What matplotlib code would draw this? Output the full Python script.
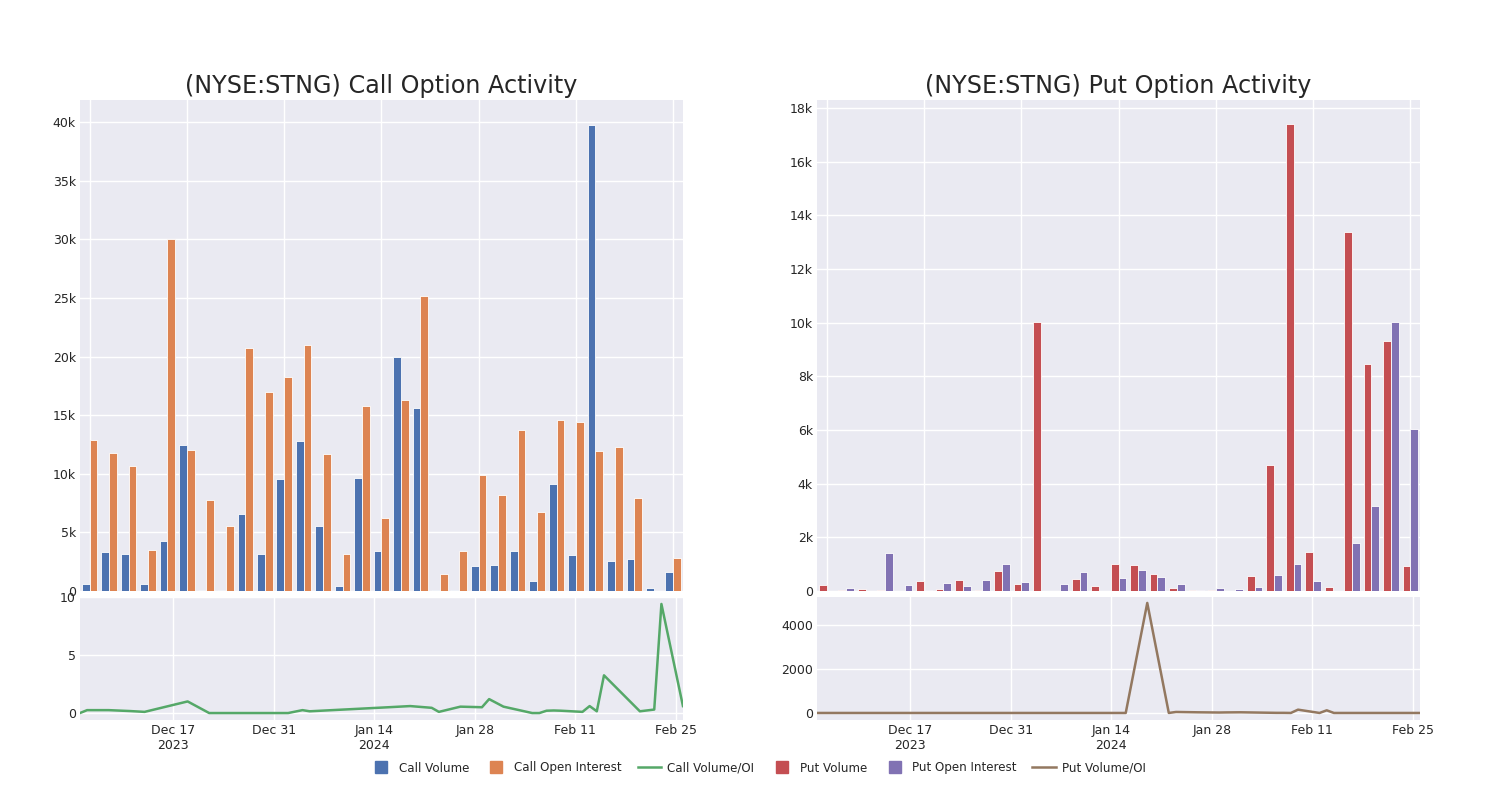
import matplotlib
matplotlib.use("Agg")
import matplotlib.pyplot as plt
from matplotlib.lines import Line2D
import numpy as np
import pandas as pd

# Trade dates shown in the chart
dates = pd.to_datetime([
    "2023-12-04", "2023-12-05", "2023-12-08", "2023-12-11", "2023-12-13",
    "2023-12-19", "2023-12-22", "2024-01-02", "2024-01-04", "2024-01-05",
    "2024-01-16", "2024-01-19", "2024-01-22", "2024-01-23", "2024-01-26",
    "2024-01-29", "2024-01-30", "2024-02-01", "2024-02-05", "2024-02-06",
    "2024-02-07", "2024-02-08", "2024-02-09", "2024-02-12", "2024-02-13",
    "2024-02-14", "2024-02-15", "2024-02-20", "2024-02-22", "2024-02-23",
    "2024-02-26",
])

call_volume = [570, 3360, 3140, 570, 4250, 12430, 100, 100, 6600, 3140,
               9580, 12830, 5530, 400, 9670, 3450, 20000, 15600, 50, 50,
               2100, 2200, 3400, 830, 9120, 3050, 39800, 2540, 2770, 290,
               1630]
call_oi = [12900, 11750, 10660, 3500, 30000, 12030, 7760, 5560, 20700, 16970,
           18250, 20960, 11720, 3140, 15800, 6200, 16300, 25150, 1430, 3420,
           9920, 8200, 13700, 6700, 14600, 14400, 11950, 12260, 7930, 30,
           2800]
call_ratio = [0.0, 0.25, 0.25, 0.17, 0.1, 1.0, 0.0, 0.0, 0.25, 0.15,
              0.5, 0.6, 0.45, 0.1, 0.55, 0.5, 1.2, 0.55, 0.0, 0.0,
              0.2, 0.22, 0.2, 0.1, 0.6, 0.15, 3.25, 0.15, 0.3, 9.4,
              0.6]

put_volume = [220, 20, 60, 30, 0, 370, 90, 410, 40, 750,
              250, 10020, 10, 460, 170, 1000, 960, 650, 110, 20,
              50, 10, 570, 4680, 17410, 1470, 150, 13370, 8460, 9320,
              940]
put_oi = [10, 100, 0, 1430, 210, 20, 310, 200, 400, 990,
          350, 0, 250, 720, 10, 470, 770, 520, 250, 20,
          120, 70, 160, 600, 990, 370, 0, 1800, 3170, 10020,
          6020]
put_ratio = [0, 0, 0, 0, 0, 0, 0, 0, 0, 0,
             0, 5000, 0, 45, 30, 20, 25, 30, 10, 5,
             5, 0, 150, 0, 120, 0, 0, 0, 0, 0,
             0]

date_ticks = pd.to_datetime(["2023-12-17", "2023-12-31", "2024-01-14",
                             "2024-01-28", "2024-02-11", "2024-02-25"])
date_labels = ["Dec 17\n2023", "Dec 31", "Jan 14\n2024", "Jan 28", "Feb 11", "Feb 25"]

BLUE, ORANGE, GREEN = "#4C72B0", "#DD8452", "#55A868"
RED, PURPLE, BROWN = "#C44E52", "#8172B3", "#937860"
BG = "#EAEAF2"
TXT = "#262626"


def style_axes(ax):
    ax.set_facecolor(BG)
    for s in ax.spines.values():
        s.set_visible(False)
    ax.grid(True, color="white", linewidth=1.0)
    ax.set_axisbelow(True)
    ax.tick_params(length=0, labelsize=9, colors=TXT, pad=3)


def k_fmt(v, pos):
    return "0" if v == 0 else "%dk" % round(v / 1000)


fig = plt.figure(figsize=(15, 8), dpi=100)

panels = [
    (0.0533, "(NYSE:STNG) Call Option Activity", call_volume, call_oi, call_ratio,
     BLUE, ORANGE, GREEN, 41900, 40000, 5000, (-0.6, 10.0), [0, 5, 10]),
    (0.5447, "(NYSE:STNG) Put Option Activity", put_volume, put_oi, put_ratio,
     RED, PURPLE, BROWN, 18300, 18000, 2000, (-320, 5270), [0, 2000, 4000]),
]

for (left, title, vol, oi, ratio, c_vol, c_oi, c_line, top, tmax, tstep,
     ylim_low, low_ticks) in panels:
    # bars on a category axis
    ax = fig.add_axes([left, 0.26125, 0.402, 0.61375])
    style_axes(ax)
    idx = np.arange(len(dates))
    ax.bar(idx - 0.2, vol, width=0.4, color=c_vol, edgecolor="white", linewidth=0.6)
    ax.bar(idx + 0.2, oi, width=0.4, color=c_oi, edgecolor="white", linewidth=0.6)
    ax.set_xlim(-0.5, len(dates) - 0.5)
    ax.set_ylim(0, top)
    ax.set_xticks(np.arange(0, len(dates), 5))
    ax.set_xticklabels([])
    ax.set_yticks(np.arange(0, tmax + 1, tstep))
    ax.yaxis.set_major_formatter(matplotlib.ticker.FuncFormatter(k_fmt))
    ax.set_title(title, fontsize=17.2, color=TXT, pad=5)

    # volume/OI ratio on a date axis
    ax2 = fig.add_axes([left, 0.1, 0.402, 0.15375])
    style_axes(ax2)
    ax2.plot(dates, ratio, color=c_line, linewidth=1.8)
    ax2.set_xlim(dates[0], dates[-1])
    ax2.set_ylim(*ylim_low)
    ax2.set_yticks(low_ticks)
    ax2.set_xticks(date_ticks)
    ax2.set_xticklabels(date_labels)

labels = ["Call Volume", "Call Open Interest", "Call Volume/OI",
          "Put Volume", "Put Open Interest", "Put Volume/OI"]
leg_handles = [
    Line2D([], [], marker="s", linestyle="", color=BLUE, markersize=8),
    Line2D([], [], marker="s", linestyle="", color=ORANGE, markersize=8),
    Line2D([], [], color=GREEN, linewidth=1.8),
    Line2D([], [], marker="s", linestyle="", color=RED, markersize=8),
    Line2D([], [], marker="s", linestyle="", color=PURPLE, markersize=8),
    Line2D([], [], color=BROWN, linewidth=1.8),
]
fig.legend(leg_handles, labels, loc="center", bbox_to_anchor=(0.505, 0.04),
           ncol=6, frameon=False, fontsize=8.6, handlelength=2.0,
           columnspacing=1.3, handletextpad=0.5, labelcolor=TXT)

fig.savefig("out.png", dpi=100, facecolor="white")
